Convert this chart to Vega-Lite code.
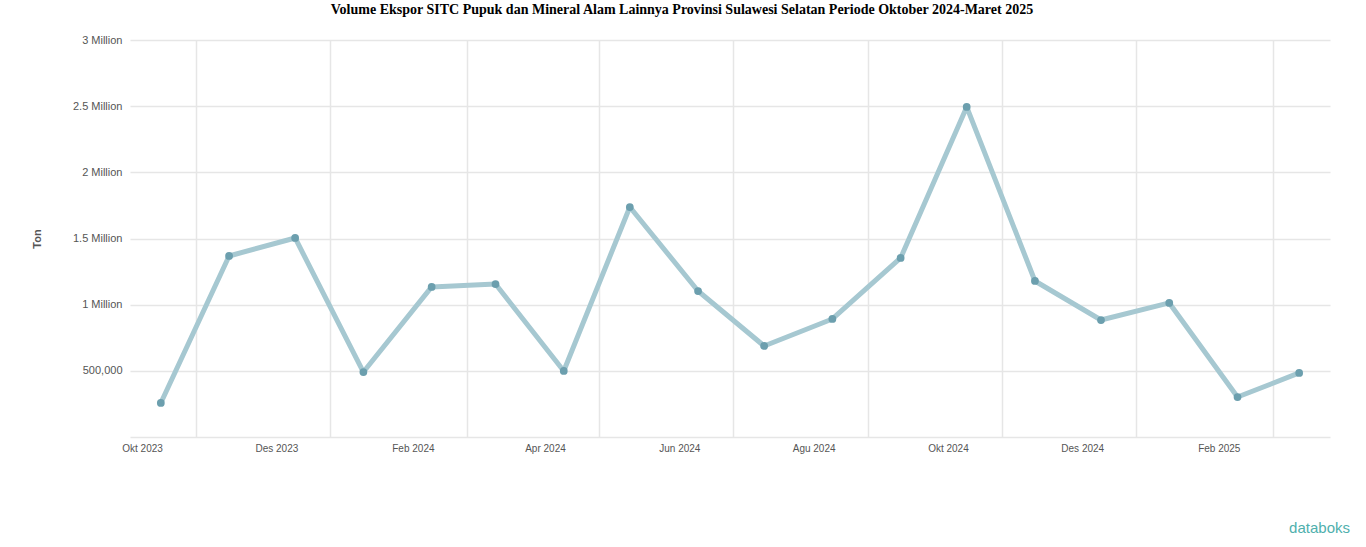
{
  "$schema": "https://vega.github.io/schema/vega-lite/v6.json",
  "autosize": {"type": "none"},
  "padding": {"left": 130, "top": 40, "right": 36, "bottom": 110},
  "width": 1200,
  "height": 397,
  "background": "white",
  "title": {
    "text": "Volume Ekspor SITC Pupuk dan Mineral Alam Lainnya Provinsi Sulawesi Selatan Periode Oktober 2024-Maret 2025",
    "font": "Liberation Serif",
    "fontSize": 14,
    "fontWeight": "bold",
    "color": "#000000",
    "anchor": "middle",
    "dx": -48,
    "offset": 17
  },
  "config": {
    "view": {"stroke": null},
    "axis": {"domain": false, "ticks": false, "gridColor": "#e6e6e6", "gridWidth": 1.5, "labelColor": "#555555", "labelFont": "Liberation Sans", "labelFontSize": 10, "titleColor": "#555555", "titleFont": "Liberation Sans"}
  },
  "data": {
    "values": [
      {"bulan": "2023-10-01", "volume": 257000},
      {"bulan": "2023-11-01", "volume": 1368000},
      {"bulan": "2023-12-01", "volume": 1504000},
      {"bulan": "2024-01-01", "volume": 491000},
      {"bulan": "2024-02-01", "volume": 1134000},
      {"bulan": "2024-03-01", "volume": 1156000},
      {"bulan": "2024-04-01", "volume": 499000},
      {"bulan": "2024-05-01", "volume": 1738000},
      {"bulan": "2024-06-01", "volume": 1103000},
      {"bulan": "2024-07-01", "volume": 688000},
      {"bulan": "2024-08-01", "volume": 892000},
      {"bulan": "2024-09-01", "volume": 1353000},
      {"bulan": "2024-10-01", "volume": 2494000},
      {"bulan": "2024-11-01", "volume": 1179000},
      {"bulan": "2024-12-01", "volume": 884000},
      {"bulan": "2025-01-01", "volume": 1013000},
      {"bulan": "2025-02-01", "volume": 302000},
      {"bulan": "2025-03-01", "volume": 484000}
    ]
  },
  "encoding": {
    "x": {
      "field": "bulan",
      "type": "temporal",
      "scale": {"domain": ["2023-09-17", "2025-03-15"]},
      "axis": {
        "title": null,
        "values": ["2023-10-17", "2023-12-17", "2024-02-17", "2024-04-17", "2024-06-17", "2024-08-17", "2024-10-17", "2024-12-17", "2025-02-17"],
        "labelExpr": "['Jan','Feb','Mar','Apr','Mei','Jun','Jul','Agu','Sep','Okt','Nov','Des'][month(datum.value)] + ' ' + year(datum.value)",
        "labelOffset": -54,
        "labelPadding": 6,
        "labelFlush": false,
        "labelOverlap": false
      }
    },
    "y": {
      "field": "volume",
      "type": "quantitative",
      "scale": {"domain": [0, 3000000], "nice": false},
      "axis": {
        "title": "Ton",
        "titlePadding": 30,
        "labelFontSize": 11,
        "values": [0, 500000, 1000000, 1500000, 2000000, 2500000, 3000000],
        "labelExpr": "datum.value == 0 ? '' : datum.value < 1000000 ? format(datum.value, ',') : format(datum.value / 1000000, '.2~f') + ' Million'",
        "labelPadding": 8
      }
    }
  },
  "layer": [
    {"mark": {"type": "line", "color": "#a6c8d1", "strokeWidth": 5, "strokeJoin": "round", "strokeCap": "round"}},
    {"mark": {"type": "point", "filled": true, "color": "#6c9fae", "size": 60, "opacity": 1}},
    {
      "data": {"values": [{"bulan": "2025-03-15", "volume": -690000, "label": "databoks"}]},
      "mark": {"type": "text", "align": "right", "dx": 20, "font": "Liberation Sans", "fontSize": 15, "color": "#4fb0ad"},
      "encoding": {"text": {"field": "label"}}
    }
  ]
}
